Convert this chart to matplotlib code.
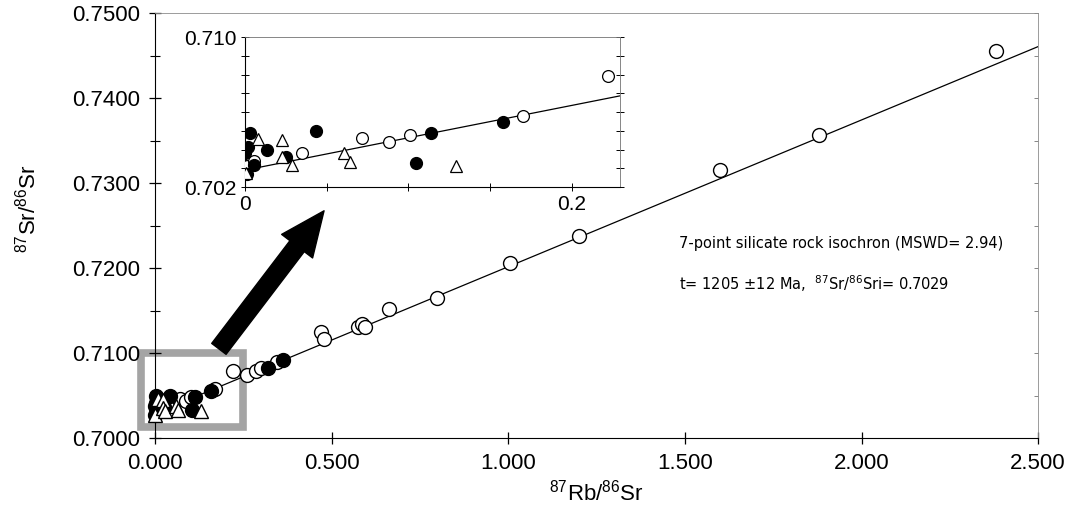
import numpy as np
import matplotlib.pyplot as plt
from matplotlib.patches import Rectangle

plt.rcParams['font.family'] = ['Liberation Sans', 'DejaVu Sans']
plt.rcParams['mathtext.default'] = 'regular'

# 87Rb/86Sr, 87Sr/86Sr
open_x = [0.001, 0.0055, 0.0347, 0.0718, 0.088, 0.101, 0.170, 0.222, 0.259, 0.287,
          0.300, 0.345, 0.471, 0.478, 0.575, 0.585, 0.595, 0.661, 0.797, 1.006,
          1.200, 1.600, 1.881, 2.381]
open_y = [0.7031, 0.7034, 0.7038, 0.7046, 0.7044, 0.7048, 0.7058, 0.7079, 0.7074, 0.7079,
          0.7082, 0.7089, 0.7125, 0.7116, 0.7131, 0.7134, 0.7131, 0.7152, 0.7165, 0.7206,
          0.7238, 0.7315, 0.7356, 0.7455]

filled_x = [0.000, 0.001, 0.002, 0.003, 0.0055, 0.0133, 0.0251, 0.0433, 0.1047, 0.1138,
            0.1577, 0.319, 0.362]
filled_y = [0.7038, 0.7027, 0.70415, 0.7049, 0.7032, 0.7040, 0.70362, 0.7050, 0.7033, 0.70486,
            0.70548, 0.7082, 0.7092]

tri_x = [0.0005, 0.0082, 0.0224, 0.0224, 0.029, 0.0606, 0.0643, 0.129]
tri_y = [0.70273, 0.70456, 0.70451, 0.70358, 0.70317, 0.7038, 0.70335, 0.70314]

# isochron: 87Sr/86Sr(i) and slope
sr_i = 0.7029
slope = 0.01726

fig = plt.figure(figsize=(10.73, 5.31), dpi=100)
ax = fig.add_axes([0.1445, 0.175, 0.823, 0.8005])

xl = np.array([0, 2.5])
ax.plot(xl, sr_i + slope * xl, color='black', lw=0.9, zorder=2)
ax.plot(open_x, open_y, 'o', ms=10, mfc='white', mec='black', mew=1.0, zorder=3)
ax.plot(filled_x, filled_y, 'o', ms=10, mfc='black', mec='black', zorder=3, clip_on=False)
ax.plot(tri_x, tri_y, '^', ms=10, mfc='white', mec='black', mew=1.0, zorder=3, clip_on=False)

# stippled box round the zoomed region
ax.add_patch(Rectangle((-0.04, 0.70135), 0.289, 0.00865, fill=False,
                       edgecolor='#a4a4a4', lw=5.5, clip_on=False, zorder=1))

ax.set_xlim(0, 2.5)
ax.set_ylim(0.70, 0.75)
ax.set_xticks(np.arange(0, 2.51, 0.5))
ax.set_xticklabels(['0.000', '0.500', '1.000', '1.500', '2.000', '2.500'])
ax.set_yticks(np.arange(0.70, 0.7501, 0.01))
ax.set_yticklabels(['0.7000', '0.7100', '0.7200', '0.7300', '0.7400', '0.7500'])
ax.set_yticks(np.arange(0.705, 0.75, 0.01), minor=True)
ax.tick_params(axis='both', which='major', direction='inout', length=9, width=0.9,
               labelsize=16, pad=6)
ax.tick_params(axis='y', which='minor', direction='inout', length=7, width=0.8)
for s in ['top', 'right']:
    ax.spines[s].set_linewidth(0.6)
    ax.spines[s].set_color('0.55')

# small inward ticks on the right edge
sec = ax.secondary_yaxis('right')
sec.set_yticks(np.arange(0.70, 0.7501, 0.005))
sec.tick_params(direction='in', length=3, width=0.6, color='0.45', labelright=False)
sec.spines['right'].set_visible(False)

ax.set_xlabel(r'$^{87}$Rb/$^{86}$Sr', fontsize=16)
ax.set_ylabel(r'$^{87}$Sr/$^{86}$Sr', fontsize=16)
ax.yaxis.set_label_coords(-0.13, 0.54)

ax.text(1.483, 0.7229, '7-point silicate rock isochron (MSWD= 2.94)',
        fontsize=10.5, family='DejaVu Sans', va='center')
ax.text(1.483, 0.7182, r't= 1205 ±12 Ma,  $^{87}$Sr/$^{86}$Sri= 0.7029',
        fontsize=10.5, family='DejaVu Sans', va='center')

# arrow pointing at the inset
ax.annotate('', xy=(0.302, 0.603), xytext=(0.204, 0.343),
            xycoords='figure fraction', textcoords='figure fraction',
            arrowprops=dict(arrowstyle='simple,head_length=3.2,head_width=2.8,tail_width=1.3',
                            fc='black', ec='black', shrinkA=0, shrinkB=0, mutation_scale=10))

# inset
axi = fig.add_axes([0.2283, 0.6478, 0.3495, 0.2825])
xi = np.array([0, 0.2295])
axi.plot(xi, sr_i + slope * xi, color='black', lw=0.9, zorder=2)
axi.plot(open_x, open_y, 'o', ms=8.5, mfc='white', mec='black', mew=0.9, zorder=3)
axi.plot(filled_x, filled_y, 'o', ms=8.5, mfc='black', mec='black', zorder=3)
axi.plot(tri_x, tri_y, '^', ms=8.5, mfc='white', mec='black', mew=0.9, zorder=3)
axi.set_xlim(0, 0.2295)
axi.set_ylim(0.702, 0.710)
axi.set_xticks([0, 0.05, 0.1, 0.15, 0.2])
axi.set_xticklabels(['0', '', '', '', '0.2'])
axi.set_yticks(np.arange(0.702, 0.7101, 0.001))
axi.set_yticklabels(['0.702', '', '', '', '', '', '', '', '0.710'])
axi.tick_params(axis='both', direction='inout', length=6, width=0.7, labelsize=15, pad=3)
axi.tick_params(axis='y', right=True)
for s in ['top', 'right']:
    axi.spines[s].set_linewidth(0.6)
    axi.spines[s].set_color('0.45')

fig.savefig('out.png', dpi=100)
